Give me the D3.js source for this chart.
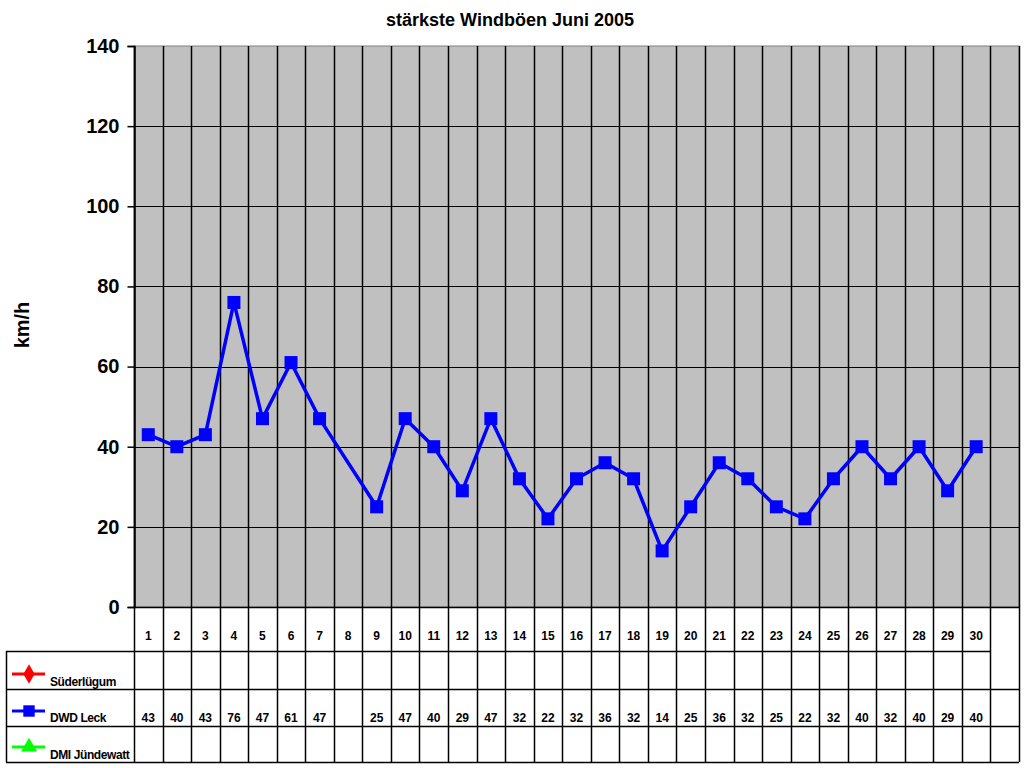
<!DOCTYPE html>
<html>
<head>
<meta charset="utf-8">
<script src="https://cdn.jsdelivr.net/npm/d3@7"></script>
<style>
  body { margin: 0; background: #fff; }
  svg { display: block; font-family: "Liberation Sans", Arial, sans-serif; font-weight: bold; }
</style>
</head>
<body>
<svg id="chart" width="1024" height="768"></svg>
<script>
//Chart data
const title = "stärkste Windböen Juni 2005";
const yLabel = "km/h";
const days = ["1","2","3","4","5","6","7","8","9","10","11","12","13","14","15","16","17","18","19","20",
  "21","22","23","24","25","26","27","28","29","30",""];
const seriesNames = ["Süderlügum", "DWD Leck", "DMI Jündewatt"];
const seriesColors = ["#ff0000", "#0000ff", "#00ff00"];
const suederluegum = days.map(() => null);
const dwdLeck = [43, 40, 43, 76, 47, 61, 47, null, 25, 47, 40, 29, 47, 32, 22, 32, 36, 32, 14, 25,
  36, 32, 25, 22, 32, 40, 32, 40, 29, 40, null];
const dmiJuendewatt = days.map(() => null);
const yTicks = [0, 20, 40, 60, 80, 100, 120, 140];

const series = [suederluegum, dwdLeck, dmiJuendewatt];

const svg = d3.select("#chart");

//Plot area
const plot = { left: 134, right: 1019, top: 46, bottom: 607 };
const tableRows = [607, 651, 689, 726, 762]; //Row boundaries of the data table
const tableLeft = 6;

const x = d3.scaleBand()
  .domain(d3.range(days.length))
  .range([plot.left, plot.right]);
const y = d3.scaleLinear()
  .domain([0, 140])
  .range([plot.bottom, plot.top]);

//Background
svg.append("rect")
  .attr("x", plot.left)
  .attr("y", plot.top)
  .attr("width", plot.right - plot.left)
  .attr("height", plot.bottom - plot.top)
  .attr("fill", "#c0c0c0")
  .attr("stroke", "#808080")
  .attr("stroke-width", 1);

//Horizontal gridlines
svg.append("g")
  .selectAll("line")
  .data(yTicks.filter(t => t > 0 && t < 140))
  .enter()
    .append("line")
    .attr("x1", plot.left)
    .attr("x2", plot.right)
    .attr("y1", d => Math.round(y(d)) + 0.5)
    .attr("y2", d => Math.round(y(d)) + 0.5)
    .attr("stroke", "#000");

//Vertical gridlines, run down through the table
const bounds = d3.range(days.length + 1).map(i => i < days.length ? x(i) : plot.right);
svg.append("g")
  .selectAll("line")
  .data(bounds)
  .enter()
    .append("line")
    .attr("x1", d => Math.round(d) + 0.5)
    .attr("x2", d => Math.round(d) + 0.5)
    .attr("y1", plot.top)
    .attr("y2", tableRows[4])
    .attr("stroke", "#000")
    .attr("stroke-width", 1.5);

//Y axis
const yAxis = svg.append("g")
  .attr("transform", `translate(${plot.left + 0.5},0)`)
  .call(d3.axisLeft(y).tickValues(yTicks).tickSize(7).tickPadding(8));
yAxis.select(".domain").attr("stroke", "#000").attr("stroke-width", 1.5);
yAxis.selectAll(".tick line").attr("stroke", "#000").attr("stroke-width", 1.5);
yAxis.selectAll(".tick text")
  .attr("fill", "#000")
  .style("font-size", "20px")
  .style("font-weight", "bold")
  .style("font-family", "'Liberation Sans', Arial, sans-serif");

//Table row lines
const lastDayEnd = x(days.length - 2) + x.bandwidth();
svg.append("g")
  .selectAll("line")
  .data(tableRows)
  .enter()
    .append("line")
    .attr("x1", (d, i) => i === 0 ? plot.left : tableLeft)
    .attr("x2", (d, i) => i === 1 ? lastDayEnd : plot.right)
    .attr("y1", d => d + 0.5)
    .attr("y2", d => d + 0.5)
    .attr("stroke", "#000")
    .attr("stroke-width", 1.5);
svg.append("line")
  .attr("x1", tableLeft + 0.5)
  .attr("x2", tableLeft + 0.5)
  .attr("y1", tableRows[1])
  .attr("y2", tableRows[4])
  .attr("stroke", "#000")
  .attr("stroke-width", 1.5);

//Category labels
svg.append("g")
  .selectAll("text")
  .data(days)
  .enter()
    .append("text")
    .attr("x", (d, i) => x(i) + x.bandwidth() / 2)
    .attr("y", 640)
    .attr("text-anchor", "middle")
    .style("font-size", "12px")
    .text(d => d);

//Table values + legend keys
const rowY = [[674, 686], [711, 722], [747, 759]]; //[symbol y, text baseline]
series.forEach((vals, s) => {
  let row = svg.append("g");
  row.selectAll("text.val")
    .data(vals)
    .enter()
      .append("text")
      .classed("val", true)
      .attr("x", (d, i) => x(i) + x.bandwidth() / 2)
      .attr("y", rowY[s][1])
      .attr("text-anchor", "middle")
      .style("font-size", "12px")
      .text(d => d === null ? "" : d);

  row.append("line")
    .attr("x1", 12)
    .attr("x2", 45)
    .attr("y1", rowY[s][0])
    .attr("y2", rowY[s][0])
    .attr("stroke", seriesColors[s])
    .attr("stroke-width", 3);
  row.append("path")
    .attr("transform", `translate(29,${rowY[s][0]})`)
    .attr("d", d3.symbol().type([d3.symbolDiamond, d3.symbolSquare, d3.symbolTriangle][s]).size([110, 130, 110][s])())
    .attr("fill", seriesColors[s]);
  row.append("text")
    .attr("x", 50)
    .attr("y", rowY[s][1])
    .style("font-size", "12px")
    .style("letter-spacing", "-0.4px")
    .text(seriesNames[s]);
});

//Lines + markers (gaps are bridged like the original)
const line = d3.line()
  .x(d => x(d.i) + x.bandwidth() / 2)
  .y(d => y(d.v));
series.forEach((vals, s) => {
  let pts = vals.map((v, i) => ({ i, v })).filter(d => d.v !== null);
  if (!pts.length) return;
  svg.append("path")
    .datum(pts)
    .attr("fill", "none")
    .attr("stroke", seriesColors[s])
    .attr("stroke-width", 3.5)
    .attr("d", line);
  svg.append("g")
    .selectAll("rect")
    .data(pts)
    .enter()
      .append("rect")
      .attr("x", d => x(d.i) + x.bandwidth() / 2 - 6.5)
      .attr("y", d => y(d.v) - 6.5)
      .attr("width", 13)
      .attr("height", 13)
      .attr("fill", seriesColors[s]);
});

//Title and axis label
svg.append("text")
  .attr("x", 510)
  .attr("y", 26)
  .attr("text-anchor", "middle")
  .style("font-size", "18px")
  .text(title);

svg.append("text")
  .attr("transform", "translate(29,325) rotate(-90)")
  .attr("text-anchor", "middle")
  .style("font-size", "20px")
  .text(yLabel);
</script>
</body>
</html>
